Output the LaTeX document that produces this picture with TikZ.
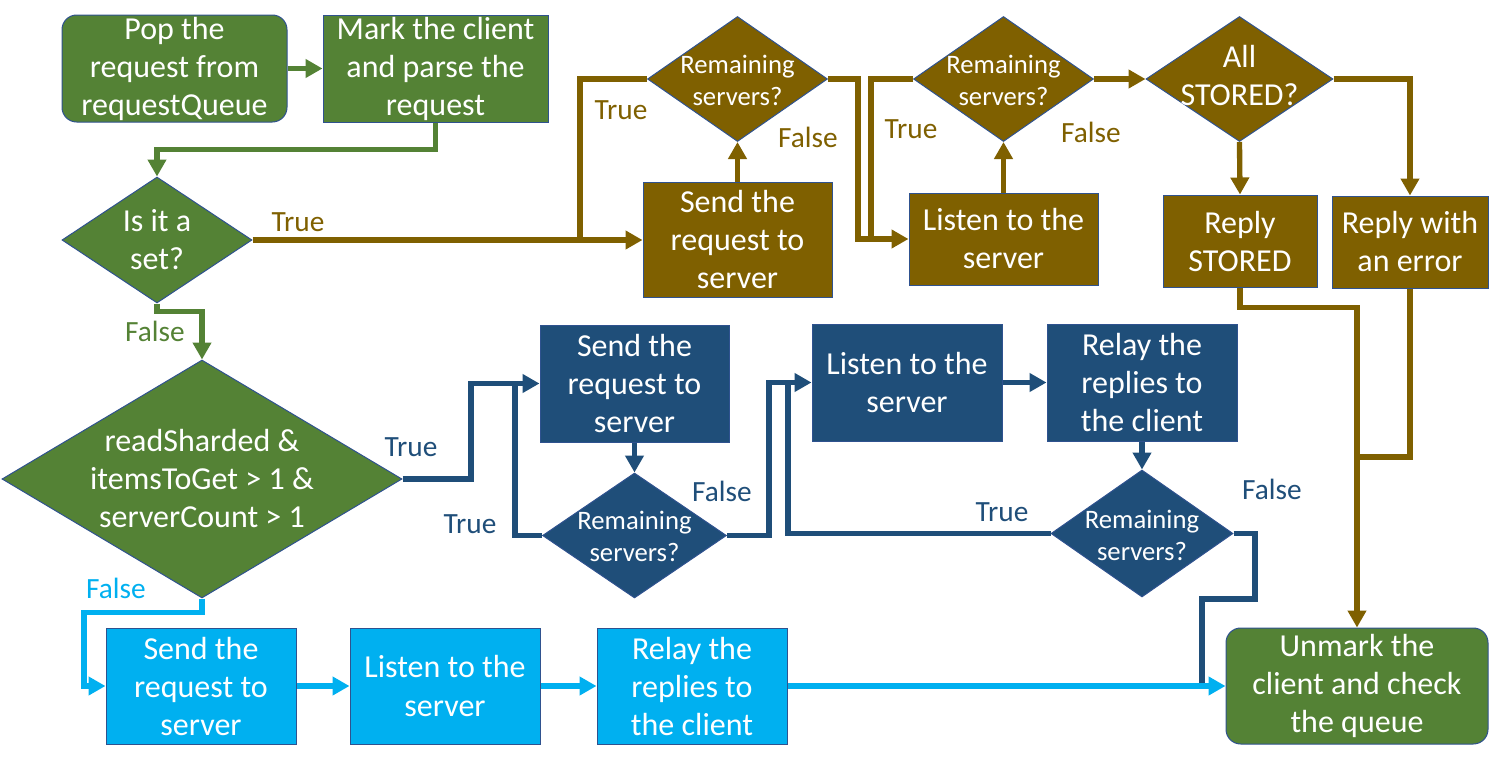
\documentclass[tikz,border=0pt]{standalone}
\usepackage{fontspec}
\setmainfont{Carlito}
\usetikzlibrary{shapes.geometric,arrows.meta}
\definecolor{cgreen}{HTML}{548235}
\definecolor{cbrown}{HTML}{7F6000}
\definecolor{cdblue}{HTML}{1F4E79}
\definecolor{clblue}{HTML}{00B0F0}
\definecolor{cedge}{HTML}{2F528F}
\begin{document}
\begin{tikzpicture}[x=0.75pt,y=-0.75pt,
  bigtxt/.style={text=white,font=\fontsize{24}{28.5}\selectfont,align=center,inner sep=0pt},
  smalltxt/.style={text=white,font=\fontsize{20}{24}\selectfont,align=center,inner sep=0pt},
  rbox/.style={draw=cedge,line width=0.75pt,rectangle,inner sep=0pt,bigtxt},
  rrbox/.style={rbox,rounded corners=11pt},
  dia/.style={draw=cedge,line width=0.75pt,diamond,inner sep=0pt},
  lab/.style={font=\fontsize{22}{26}\selectfont,inner sep=0pt},
  conn/.style={line width=4pt},
  arr/.style={conn,-{Triangle[length=12.75pt,width=13.5pt]}},
  boxA/.style={minimum width=168.75pt,minimum height=80.25pt},
  boxB/.style={minimum width=142.5pt,minimum height=87pt},
  diaS/.style={minimum width=135pt,minimum height=93.75pt}
]
\useasboundingbox (0,0) rectangle (1504,764);

% ---------- nodes ----------
\node[rrbox,fill=cgreen,boxA] (pop) at (174.5,68.5) {Pop the\\request from\\requestQueue};
\node[rbox,fill=cgreen,boxA] (mark) at (435.5,68.5) {Mark the client\\and parse the\\request};

\node[dia,fill=cgreen,minimum width=142.5pt,minimum height=94.5pt] (set) at (157,240) {};
\node[bigtxt] (settxt) at (157,240) {Is it a\\set?};

\node[dia,fill=cgreen,minimum width=300pt,minimum height=178.5pt] (bd) at (202,479) {};
\node[bigtxt] (bdtxt) at (202,479) {readSharded \&\\itemsToGet > 1 \&\\serverCount > 1};

% brown (set) branch
\node[rbox,fill=cbrown,minimum width=141.75pt,minimum height=86.25pt] (s1) at (737.5,240) {Send the\\request to\\server};
\node[dia,fill=cbrown,diaS] (d1) at (737.5,79) {};
\node[smalltxt] (d1txt) at (737.5,80) {Remaining\\servers?};
\node[rbox,fill=cbrown,minimum width=141.75pt,minimum height=69pt] (l1) at (1003.5,239) {Listen to the\\server};
\node[dia,fill=cbrown,diaS] (d2) at (1003.5,79) {};
\node[smalltxt] (d2txt) at (1003.5,80) {Remaining\\servers?};
\node[dia,fill=cbrown,minimum width=140.25pt,minimum height=93.75pt] (d3) at (1239.5,79) {};
\node[bigtxt] (d3txt) at (1239.5,75) {All\\STORED?};
\node[rbox,fill=cbrown,minimum width=115.5pt,minimum height=69pt] (rs) at (1240,241) {Reply\\STORED};
\node[rbox,fill=cbrown,minimum width=117pt,minimum height=69pt] (re) at (1410,242) {Reply with\\an error};
\node[rrbox,fill=cgreen,minimum width=196.5pt,minimum height=87pt] (um) at (1357,686) {Unmark the\\client and check\\the queue};

% dark blue branch
\node[rbox,fill=cdblue,minimum width=141.75pt,minimum height=87.75pt] (s2) at (634.5,383.5) {Send the\\request to\\server};
\node[dia,fill=cdblue,minimum width=138pt,minimum height=93.75pt] (d4) at (634.5,535.5) {};
\node[smalltxt] (d4txt) at (634.5,536) {Remaining\\servers?};
\node[rbox,fill=cdblue,minimum width=142.5pt,minimum height=87.75pt] (l2) at (907,382.5) {Listen to the\\server};
\node[rbox,fill=cdblue,minimum width=142.5pt,minimum height=87.75pt] (r2) at (1142,382.5) {Relay the\\replies to\\the client};
\node[dia,fill=cdblue,minimum width=136.5pt,minimum height=95.25pt] (d5) at (1142,533.5) {};
\node[smalltxt] (d5txt) at (1142,535) {Remaining\\servers?};

% light blue branch
\node[rbox,fill=clblue,boxB] (s3) at (201,686) {Send the\\request to\\server};
\node[rbox,fill=clblue,boxB] (l3) at (445,686) {Listen to the\\server};
\node[rbox,fill=clblue,boxB] (r3) at (692,686) {Relay the\\replies to\\the client};

% ---------- junction points ----------
\coordinate (j1) at (580,240);
\coordinate (j2) at (871,239);
\coordinate (j3) at (1357,457);
\coordinate (j4) at (515,383.5);
\coordinate (j5) at (788,382.5);
\coordinate (j6) at (1202,686);
\coordinate (j7) at (84,686);

% ---------- connectors ----------
\draw[arr,cgreen] (pop.east) -- (mark.west);
\draw[arr,cgreen] (mark.south) -- ++(0,27) -| (set.north);
\draw[arr,cgreen] (set.south) -- ++(0,8) -| (bd.north);

\draw[arr,cbrown] (set.east) -- (s1.west);
\draw[conn,cbrown] (d1.west) -| (j1);
\draw[arr,cbrown] (s1.north) -- (d1.south);
\draw[arr,cbrown] (d1.east) -- ++(30,0) |- (l1.west);
\draw[conn,cbrown] (d2.west) -| (j2);
\draw[arr,cbrown] (l1.north) -- (d2.south);
\draw[arr,cbrown] (d2.east) -- (d3.west);
\draw[arr,cbrown] (d3.south) -- (rs.north);
\draw[arr,cbrown] (d3.east) -| (re.north);
\draw[arr,cbrown] (rs.south) -- ++(0,20) -| (um.north);
\draw[conn,cbrown] (re.south) |- (j3);

\draw[arr,cdblue] (bd.east) -- (471,479) |- (s2.west);
\draw[arr,cdblue] (s2.south) -- (d4.north);
\draw[conn,cdblue] (d4.west) -| (j4);
\draw[arr,cdblue] (d4.east) -- (769,535.5) |- (l2.west);
\draw[arr,cdblue] (l2.east) -- (r2.west);
\draw[arr,cdblue] (r2.south) -- (d5.north);
\draw[conn,cdblue] (d5.west) -| (j5);
\draw[conn,cdblue] (d5.east) -- (1255,533.5) -- (1255,599) -| (j6);

\draw[arr,clblue] (bd.south) -- ++(0,14) -| (j7) -- (s3.west);
\draw[arr,clblue] (s3.east) -- (l3.west);
\draw[arr,clblue] (l3.east) -- (r3.west);
\draw[arr,clblue] (r3.east) -- (um.west);

% ---------- labels ----------
\node[lab,text=cbrown] (lt0) at (298,222) {True};
\node[lab,text=cgreen] (lf0) at (155,331) {False};
\node[lab,text=cbrown] (lt1) at (621,110) {True};
\node[lab,text=cbrown] (lf1) at (808,137) {False};
\node[lab,text=cbrown] (lt2) at (911,129) {True};
\node[lab,text=cbrown] (lf2) at (1091,132) {False};
\node[lab,text=cdblue] (lt3) at (411,447) {True};
\node[lab,text=cdblue] (lt4) at (470,524) {True};
\node[lab,text=cdblue] (lf4) at (722,491) {False};
\node[lab,text=cdblue] (lt5) at (1002,512) {True};
\node[lab,text=cdblue] (lf5) at (1272,489) {False};
\node[lab,text=clblue] (lf6) at (116,588) {False};
\end{tikzpicture}
\end{document}
